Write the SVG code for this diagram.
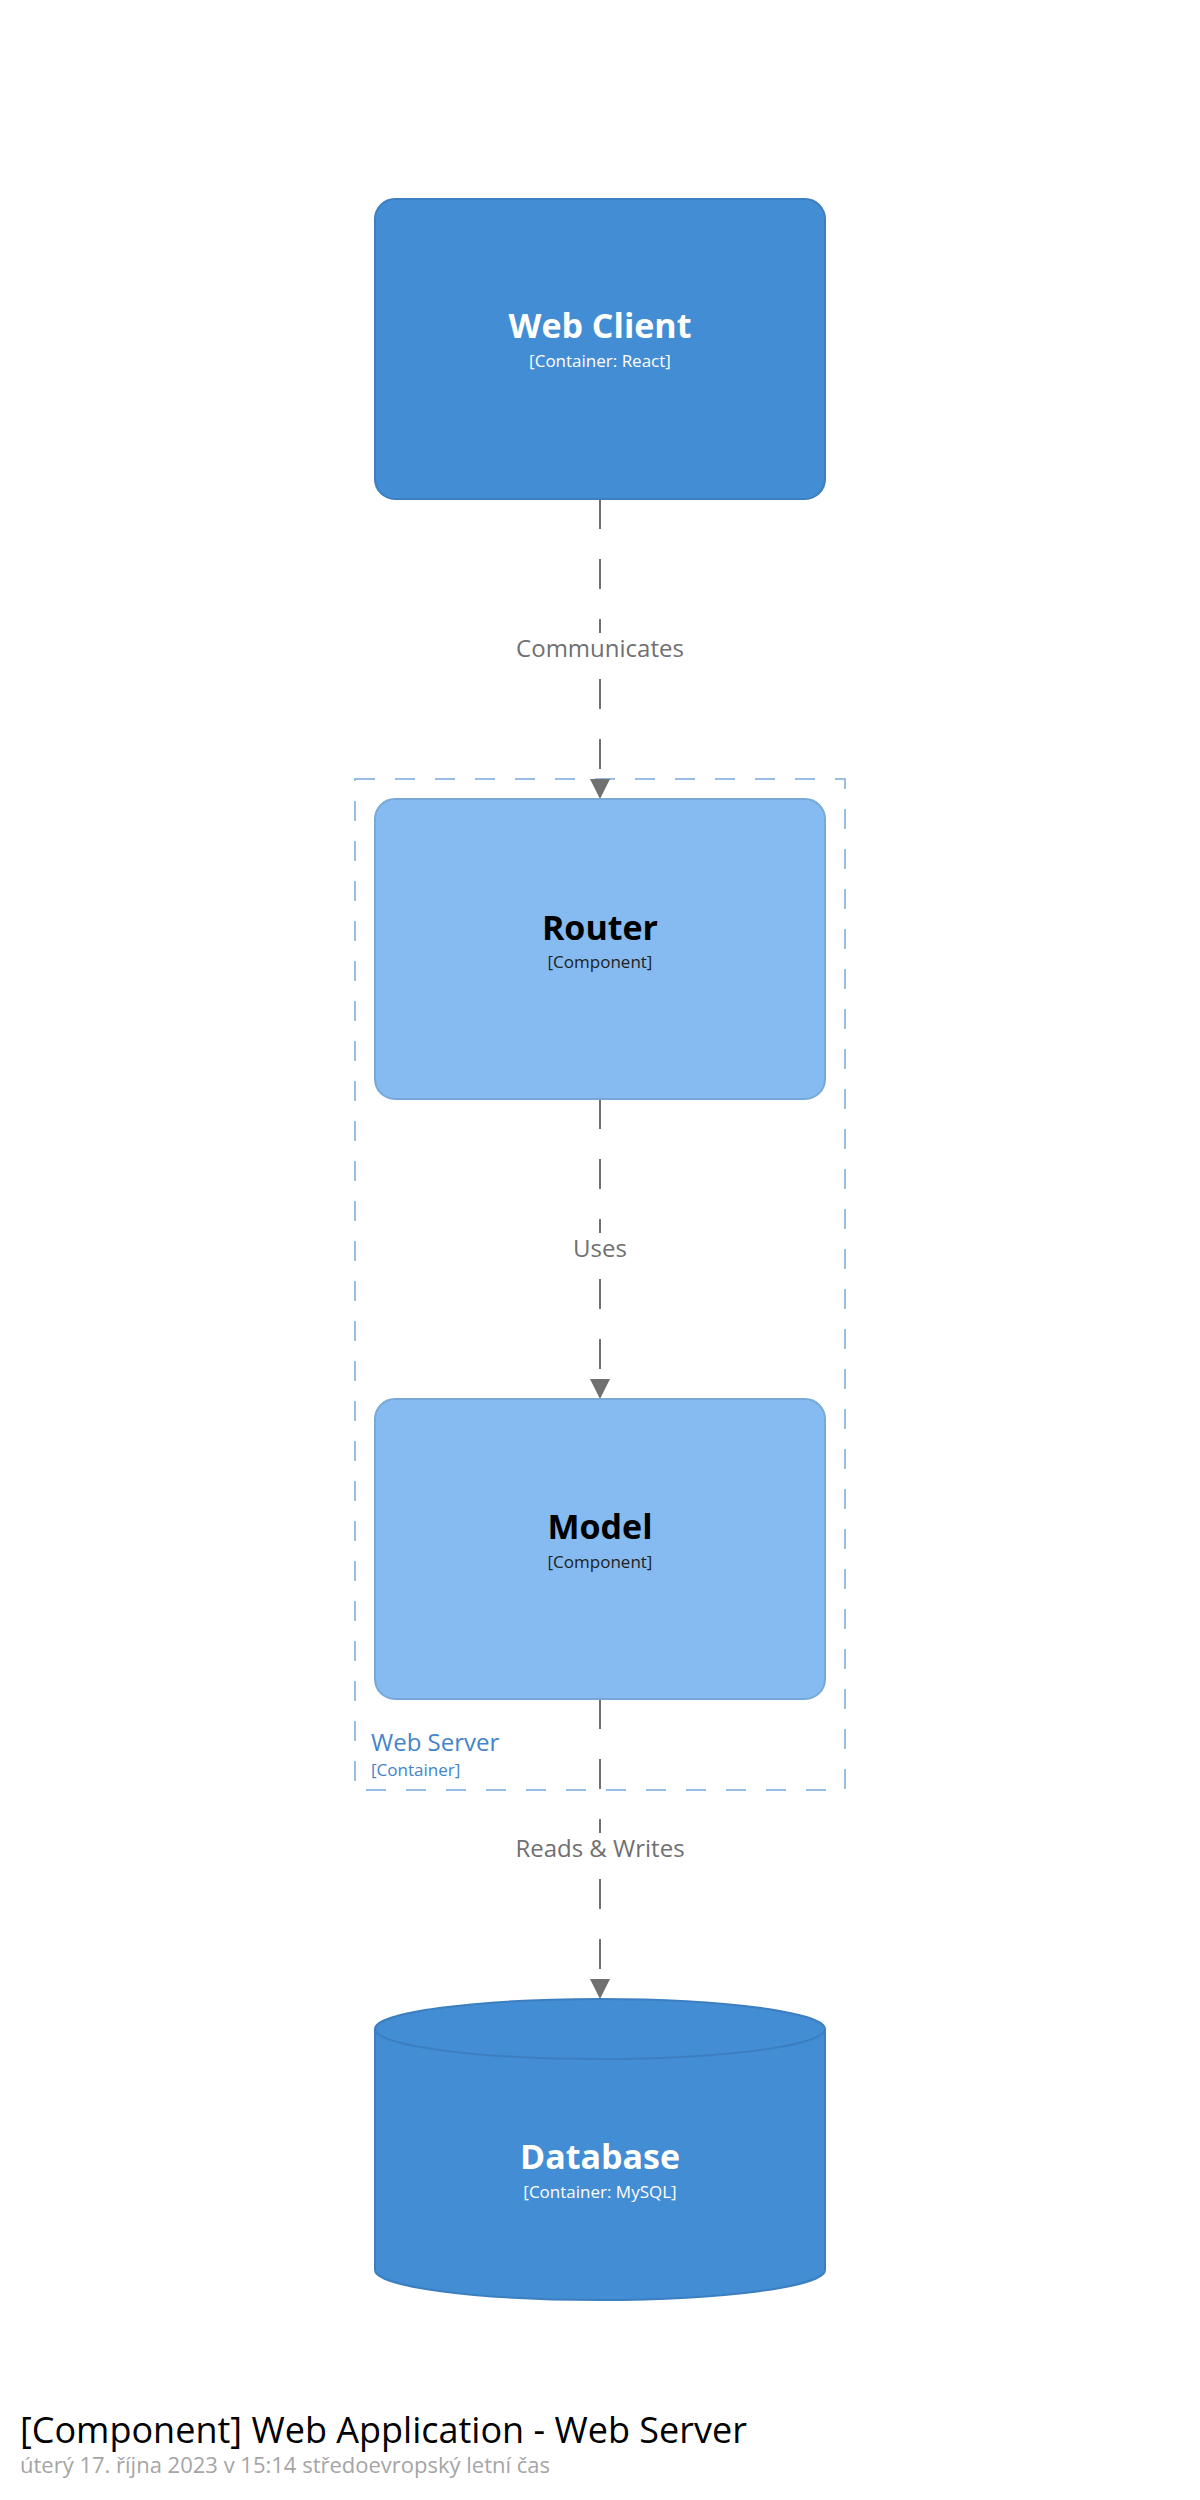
<svg xmlns="http://www.w3.org/2000/svg" width="1200" height="2500" viewBox="0 0 1200 2500">
<style>
text { font-family: "Open Sans", "Noto Sans", "DejaVu Sans", sans-serif; }
.name { font-size: 34px; font-weight: bold; text-anchor: middle; }
.meta { font-size: 17px; text-anchor: middle; }
.light { fill: #ffffff; }
.dark { fill: #000000; }
.darkmeta { fill: #222222; }
.container { fill: #438DD5; stroke: #3C7FC0; stroke-width: 2; }
.component { fill: #85BBF0; stroke: #78A8D8; stroke-width: 2; }
.rel { stroke: #707070; stroke-width: 2; fill: none; stroke-dasharray: 30 30; }
.head { fill: #707070; }
.rellabel { font-size: 24px; fill: #707070; text-anchor: middle; }
.boundary { fill: none; stroke: #98BEE6; stroke-width: 2; stroke-dasharray: 20 20; }
</style>
<rect x="0" y="0" width="1200" height="2500" fill="#ffffff"/>

<g id="boundary-webserver">
<rect class="boundary" x="355" y="779" width="490" height="1011"/>
<text x="371" y="1751" font-size="24" fill="#4384CB">Web Server</text>
<text x="371" y="1776" font-size="17" fill="#4384CB">[Container]</text>
</g>

<g id="connectors">
<line class="rel" x1="600" y1="499" x2="600" y2="780"/>
<polygon class="head" points="590,779 610,779 600,799"/>
<rect x="510" y="633" width="180" height="46" fill="#ffffff"/>
<text class="rellabel" x="600" y="657">Communicates</text>

<line class="rel" x1="600" y1="1099" x2="600" y2="1380"/>
<polygon class="head" points="590,1379 610,1379 600,1399"/>
<rect x="560" y="1233" width="80" height="46" fill="#ffffff"/>
<text class="rellabel" x="600" y="1257">Uses</text>

<line class="rel" x1="600" y1="1699" x2="600" y2="1980"/>
<polygon class="head" points="590,1979 610,1979 600,1999"/>
<rect x="510" y="1833" width="180" height="46" fill="#ffffff"/>
<text class="rellabel" x="600" y="1857">Reads &amp; Writes</text>
</g>

<g id="webclient">
<rect class="container" x="375" y="199" width="450" height="300" rx="20" ry="20"/>
<text class="name light" x="600" y="338">Web Client</text>
<text class="meta light" x="600" y="367">[Container: React]</text>
</g>

<g id="router">
<rect class="component" x="375" y="799" width="450" height="300" rx="20" ry="20"/>
<text class="name dark" x="600" y="940">Router</text>
<text class="meta darkmeta" x="600" y="968">[Component]</text>
</g>

<g id="model">
<rect class="component" x="375" y="1399" width="450" height="300" rx="20" ry="20"/>
<text class="name dark" x="600" y="1539">Model</text>
<text class="meta darkmeta" x="600" y="1568">[Component]</text>
</g>

<g id="database">
<path class="container" d="M375,2029 L375,2270 A225,30 0 0 0 825,2270 L825,2029 A225,30 0 0 0 375,2029 Z"/>
<path d="M375,2029 A225,30 0 0 0 825,2029" fill="none" stroke="#3C7FC0" stroke-width="2"/>
<text class="name light" x="600" y="2169">Database</text>
<text class="meta light" x="600" y="2198">[Container: MySQL]</text>
</g>

<g id="title">
<text x="20" y="2443" font-size="36" fill="#000000">[Component] Web Application - Web Server</text>
<text x="20" y="2473" font-size="22" fill="#A5A5A5">úterý 17. října 2023 v 15:14 středoevropský letní čas</text>
</g>
</svg>
